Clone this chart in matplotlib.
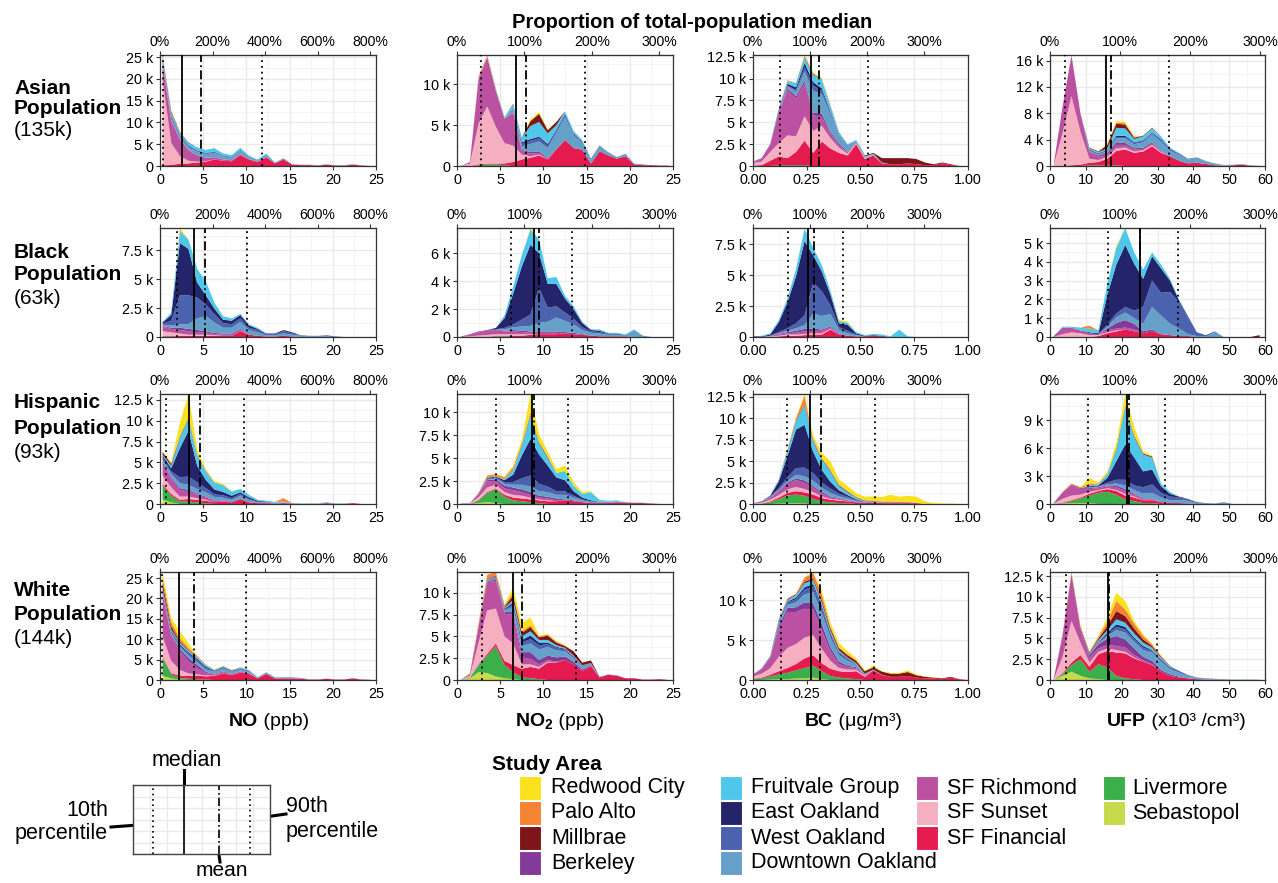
import numpy as np
import matplotlib.pyplot as plt
from matplotlib.patches import Rectangle
from matplotlib.ticker import MultipleLocator, FuncFormatter, FormatStrFormatter

plt.rcParams['font.family'] = ['Liberation Sans', 'DejaVu Sans']
plt.rcParams['mathtext.fontset'] = 'custom'
plt.rcParams['mathtext.rm'] = 'Liberation Sans'
plt.rcParams['mathtext.bf'] = 'Liberation Sans:bold'

# study areas, legend order
area_codes = ['RC', 'PA', 'MB', 'BK', 'FV', 'EO', 'WO', 'DO', 'SR', 'SS', 'SF', 'LV', 'SB']
area_names = ['Redwood City', 'Palo Alto', 'Millbrae', 'Berkeley', 'Fruitvale Group',
              'East Oakland', 'West Oakland', 'Downtown Oakland', 'SF Richmond',
              'SF Sunset', 'SF Financial', 'Livermore', 'Sebastopol']
area_colors = {'RC': '#F9E11B', 'PA': '#F48431', 'MB': '#7E1518', 'BK': '#833A98',
               'FV': '#4FC7EB', 'EO': '#24246B', 'WO': '#4B63AE', 'DO': '#65A0C9',
               'SR': '#BB51A0', 'SS': '#F6AFC0', 'SF': '#E51A4E', 'LV': '#3BAF4A',
               'SB': '#C6DA4B'}
# bottom -> top
stack_order = ['SB', 'LV', 'SF', 'SS', 'SR', 'BK', 'DO', 'WO', 'EO', 'FV', 'MB', 'PA', 'RC']

# bin centres for each pollutant
x_no = 0.3 + np.arange(25)
x_no2 = 0.5 + np.arange(25)
x_bc = 0.04 * np.arange(26)
x_ufp = 1 + 2.5 * np.arange(24)

# population counts per bin (thousands)
asian_no = dict(
    SS=[19.5, 5.0, 1.8, 0.6, 0.2, 0.1],
    SR=[3.5, 5.0, 3.8, 2.4, 1.4, 0.8, 0.5, 0.3, 0.2, 0.2, 0.1, 0.1],
    SF=[0.2, 0.3, 0.5, 0.6, 0.8, 1.0, 1.5, 1.2, 1.1, 2.5, 1.5, 0.9, 2.0, 0.6, 1.5, 0.3, 0.2, 0.2, 0.1, 0.3, 0.1, 0.1, 0.3, 0.1],
    LV=[0.1],
    DO=[0.3, 0.5, 0.5, 0.6, 0.8, 0.8, 1.0, 0.7, 0.6, 0.8, 0.5, 0.3, 0.6, 0.2, 0.3, 0.1, 0.1, 0.1, 0.1, 0.1, 0.1, 0.1, 0.1, 0.1],
    WO=[0.3, 0.3, 0.3, 0.2, 0.2, 0.2, 0.2, 0.1, 0.1, 0.1, 0.1, 0.1, 0.1],
    EO=[0.3, 0.3, 0.2, 0.2, 0.1, 0.1, 0.1, 0.1, 0.1, 0.1],
    FV=[0.4, 0.6, 0.5, 0.6, 0.7, 0.7, 0.8, 0.5, 0.4, 0.5, 0.2, 0.1, 0.2],
    BK=[0.2, 0.2, 0.1, 0.1, 0.1],
    MB=[0.3, 0.3, 0.1, 0.1],
    PA=[0.2, 0.2, 0.1],
    RC=[0.2, 0.2, 0.1],
)
asian_no2 = dict(
    SF=[0, 0, 0.1, 0.1, 0.1, 0.2, 0.5, 0.8, 1.0, 1.3, 0.8, 2.0, 3.2, 2.2, 2.0, 0.3, 1.8, 1.3, 0.9, 1.2, 0.2, 0.1, 0.1, 0.05, 0.05],
    LV=[0, 0, 0.1, 0.2, 0.2, 0.1],
    SS=[0, 0.3, 5.0, 7.0, 4.5, 2.5, 2.0, 0.6, 0.2, 0.1],
    SR=[0, 0.2, 5.5, 6.0, 4.4, 3.0, 4.0, 0.5, 0.3, 0.2, 0.1],
    DO=[0, 0, 0.1, 0.1, 0.1, 0.1, 0.2, 0.4, 1.0, 1.2, 1.2, 2.0, 2.8, 1.5, 0.8, 0.5, 0.6, 0.4, 0.2, 0.3, 0.1, 0.1],
    WO=[0, 0, 0, 0, 0, 0, 0.1, 0.3, 0.4, 0.4, 0.3, 0.3, 0.3, 0.2, 0.2, 0.1, 0.1],
    EO=[0, 0, 0, 0, 0, 0, 0.1, 0.2, 0.2, 0.2, 0.2, 0.1, 0.1, 0.1],
    FV=[0, 0, 0, 0, 0.1, 0.1, 0.5, 0.6, 1.6, 1.8, 1.3, 0.5, 0.3, 0.3, 0.2],
    BK=[0, 0, 0, 0, 0, 0, 0.1, 0.1, 0.2, 0.2, 0.1, 0.1],
    MB=[0, 0, 0, 0, 0, 0, 0.1, 0, 0.6, 1.0, 0.4, 0.4],
    PA=[0, 0, 0.2, 0.2, 0.1],
    RC=[0, 0, 0, 0, 0, 0, 0, 0, 0.2, 0.2, 0.1],
)
asian_bc = dict(
    SF=[0.05, 0.1, 0.6, 1.0, 0.8, 1.5, 2.8, 1.5, 2.8, 2.0, 1.5, 1.2, 2.5, 0.8, 1.2, 0.3, 0.2, 0.2, 0.3, 0.2, 0.1, 0.1, 0.3, 0.1],
    LV=[0, 0, 0, 0.1, 0.1, 0.1, 0.1],
    SS=[0.3, 0.4, 1.0, 1.5, 2.6, 1.8, 2.8, 2.5, 1.8, 1.2, 0.6, 0.2, 0.1, 0.1],
    SR=[0.1, 0.3, 0.8, 3.5, 5.2, 4.3, 3.8, 1.8, 1.0, 0.5, 0.3, 0.1, 0.1],
    DO=[0, 0, 0, 0.1, 0.2, 0.5, 1.0, 2.5, 2.2, 2.0, 1.0, 0.7, 0.2, 0.1, 0.1, 0.1],
    WO=[0, 0, 0, 0.1, 0.1, 0.2, 0.5, 0.6, 0.4, 0.3, 0.1, 0.1],
    EO=[0, 0, 0, 0.1, 0.2, 0.3, 0.5, 0.4, 0.3, 0.1],
    FV=[0, 0, 0, 0.1, 0.3, 0.5, 0.6, 0.8, 1.0, 0.6, 0.2, 0.1, 0.1, 0.1, 0.1],
    BK=[0.05, 0.1, 0.1, 0.1, 0.2, 0.3, 0.3, 0.3, 0.4, 0.2, 0.2, 0.1],
    MB=[0, 0, 0, 0, 0, 0, 0.1, 0.1, 0, 0, 0, 0, 0, 0.1, 0.1, 0.5, 0.7, 0.7, 0.6, 0.6, 0.3, 0.1, 0.1, 0.1],
    PA=[0, 0, 0, 0, 0.1, 0, 0.1, 0.1, 0.1, 0.1],
    RC=[0, 0, 0, 0, 0, 0, 0.1, 0.1, 0.1],
)
asian_ufp = dict(
    SF=[0, 0, 0.1, 0.2, 0.4, 0.5, 1.0, 2.2, 2.5, 2.0, 2.2, 3.0, 2.0, 1.5, 0.8, 0.4, 0.5, 0.3, 0.1, 0.05, 0.1, 0.2, 0.05],
    LV=[0, 0, 0, 0, 0.1, 0.1, 0.1, 0.1],
    SS=[0.05, 5.0, 10.5, 5.0, 0.6, 0.3, 0.3, 0.4, 0.3, 0.2, 0.2, 0.2, 0.1],
    SR=[0.05, 4.0, 6.1, 2.7, 1.0, 0.5, 0.3, 0.5, 0.4, 0.3, 0.2, 0.2, 0.1],
    DO=[0, 0, 0, 0, 0.1, 0.1, 0.3, 0.6, 0.7, 0.6, 0.8, 1.2, 1.4, 0.8, 0.9, 0.6, 0.7, 0.4, 0.3, 0.1, 0.1, 0.1, 0.05],
    WO=[0, 0, 0, 0, 0.1, 0.1, 0.1, 0.2, 0.2, 0.2, 0.2, 0.2, 0.3, 0.2, 0.2, 0.1, 0.1, 0.05],
    EO=[0, 0, 0, 0, 0.1, 0.1, 0.1, 0.2, 0.2, 0.1, 0.1, 0.1, 0.1, 0.1],
    FV=[0, 0, 0, 0, 0.2, 0.2, 0.2, 1.2, 1.1, 0.5, 0.6, 0.6, 0.4, 0.2, 0.1],
    BK=[0, 0, 0.1, 0.1, 0.1, 0.2, 0.3, 0.4, 0.3, 0.2, 0.2, 0.2, 0.1],
    MB=[0, 0, 0, 0, 0.1, 0.1, 0.5, 0.6, 0.6, 0.2, 0.1, 0.1],
    PA=[0, 0, 0.05, 0, 0, 0, 0.1, 0.2, 0.2, 0.1],
    RC=[0, 0, 0, 0, 0, 0, 0.1, 0.2, 0.2, 0.1],
)

black_no = dict(
    SF=[0.05, 0.05, 0.1, 0.1, 0.1, 0.1, 0.1, 0.1, 0.1, 0.5, 0.2, 0.1, 0.05, 0.05, 0.1, 0.05],
    SS=[0.4, 0.3, 0.2, 0.1, 0.1, 0.1, 0.05],
    SR=[0.4, 0.3, 0.3, 0.3, 0.2, 0.2, 0.1, 0.1, 0.1, 0.1],
    LV=[0.05, 0.05],
    DO=[0.1, 0.2, 0.3, 0.4, 1.0, 1.3, 0.9, 0.5, 0.5, 0.6, 0.4, 0.3, 0.1, 0.1, 0.2, 0.15, 0.1, 0.05, 0.05, 0.05],
    WO=[0.1, 0.4, 2.5, 2.5, 1.8, 1.0, 0.7, 0.4, 0.3, 0.3, 0.2, 0.2, 0.1, 0.1, 0.2, 0.1, 0.05, 0.05, 0.05, 0.1, 0.05],
    EO=[0.1, 0.5, 4.5, 4.0, 1.3, 0.8, 0.5, 0.3, 0.3, 0.3, 0.2, 0.1, 0.05, 0.05, 0.1, 0.1],
    FV=[0.05, 0.2, 1.0, 0.8, 1.2, 1.2, 0.5, 0.3, 0.2, 0.1, 0.1, 0.1],
    BK=[0.05, 0.1, 0.2, 0.2, 0.2, 0.1, 0.1, 0.1, 0.1, 0.1],
    PA=[0, 0, 0.1],
    RC=[0, 0, 0.2],
)
black_no2 = dict(
    SF=[0, 0, 0, 0, 0.05, 0.05, 0.1, 0.1, 0.15, 0.2, 0.2, 0.2, 0.25, 0.2, 0.15, 0.1, 0.05, 0.05, 0.05, 0.05],
    LV=[0, 0, 0, 0, 0.05, 0.05],
    SS=[0, 0.05, 0.1, 0.15, 0.1, 0.1, 0.1, 0.1, 0.05],
    SR=[0.05, 0.1, 0.25, 0.3, 0.3, 0.2, 0.2, 0.15, 0.1, 0.1, 0.1, 0.1],
    DO=[0, 0, 0, 0, 0, 0.1, 0.2, 0.3, 0.4, 0.6, 0.7, 1.0, 0.8, 0.6, 0.3, 0.2, 0.2, 0.1, 0.1, 0.1, 0.5, 0.1],
    WO=[0, 0, 0, 0, 0, 0.1, 0.2, 0.5, 0.8, 2.5, 1.0, 0.8, 0.6, 0.4, 0.2, 0.1, 0.1, 0.05, 0.05],
    EO=[0, 0, 0, 0, 0.1, 0.7, 2.2, 3.8, 5.0, 2.5, 1.7, 1.6, 1.0, 0.7, 0.3, 0.1, 0.1, 0.05, 0.05],
    FV=[0, 0, 0, 0, 0, 0.2, 0.5, 0.8, 1.1, 1.0, 0.4, 0.5, 0.2, 0.2, 0.1, 0.05, 0.1, 0.05, 0.05, 0.05, 0.05],
    BK=[0, 0.05, 0.05, 0.05, 0.05, 0.05, 0.1, 0.1, 0.1, 0.1, 0.1, 0.1, 0.1, 0.1, 0.05],
    RC=[0, 0, 0, 0, 0, 0, 0, 0, 0.1],
)
black_bc = dict(
    SF=[0, 0, 0, 0.05, 0.1, 0.1, 0.15, 0.2, 0.2, 0.6, 0.2, 0.1, 0.05, 0.05, 0.1, 0.05],
    SS=[0, 0, 0.05, 0.05, 0.1, 0.1, 0.1, 0.1, 0.1, 0.05],
    SR=[0, 0, 0.05, 0.1, 0.1, 0.15, 0.2, 0.2, 0.2, 0.1, 0.05],
    DO=[0, 0, 0, 0.05, 0.1, 0.2, 0.3, 1.2, 1.1, 1.0, 0.3, 0.2, 0.1],
    WO=[0, 0, 0, 0.1, 0.2, 0.4, 0.8, 2.5, 2.0, 0.7, 0.2, 0.2, 0.05],
    EO=[0.05, 0.05, 0.1, 0.8, 2.1, 3.8, 6.0, 2.2, 1.6, 0.9, 0.3, 0.5, 0.1, 0.05, 0.05, 0.05],
    FV=[0, 0.05, 0.1, 0.15, 0.3, 0.6, 1.0, 0.6, 0.5, 0.3, 0.2, 0.15, 0.1, 0.05, 0.1, 0.1, 0.05, 0.6, 0.05],
    BK=[0, 0, 0, 0.05, 0.1, 0.15, 0.2, 0.2, 0.1, 0.1, 0.05],
    RC=[0, 0, 0, 0, 0, 0, 0.05, 0, 0, 0, 0.1, 0.1],
)
black_ufp = dict(
    SF=[0, 0, 0, 0, 0, 0.05, 0.2, 0.3, 0.4, 0.3, 0.2, 0.3, 0.15, 0.1, 0.05, 0.05],
    SS=[0, 0.15, 0.25, 0.2, 0.1, 0.05, 0.05, 0.05],
    SR=[0.05, 0.35, 0.25, 0.15, 0.1, 0.05, 0.1, 0.1, 0.1, 0.1],
    DO=[0, 0, 0, 0, 0, 0, 0.1, 0.3, 0.4, 0.3, 0.4, 1.2, 1.0, 0.6, 0.4, 0.1, 0.05, 0.02, 0.25],
    WO=[0, 0, 0, 0, 0, 0, 0.1, 0.2, 0.3, 0.4, 0.9, 1.4, 1.2, 1.7, 1.4, 0.9, 0.2, 0.08, 0.05],
    EO=[0, 0, 0, 0, 0.05, 0.05, 1.6, 2.6, 3.3, 2.5, 1.5, 1.3, 1.3, 0.6, 0.1, 0.05],
    FV=[0, 0.05, 0.05, 0.15, 0.2, 0.15, 0.6, 0.9, 0.9, 0.6, 0.5, 0.2, 0.2, 0.1, 0.05],
    BK=[0, 0, 0, 0, 0, 0, 0.1, 0.3, 0.4, 0.3, 0.1, 0.1],
    PA=[0, 0, 0, 0, 0.15],
    RC=[0, 0, 0, 0, 0, 0, 0, 0.1],
    MB=[0, 0, 0, 0, 0, 0, 0, 0, 0, 0, 0, 0, 0, 0, 0, 0, 0, 0, 0, 0, 0, 0, 0, 0.1],
)

hisp_no = dict(
    SB=[0.5, 0.2],
    LV=[1.7, 0.8, 0.3, 0.3, 0.2, 0.1],
    SF=[0.2, 0.2, 0.2, 0.3, 0.3, 0.3, 0.2, 0.3, 0.2, 0.6, 0.2, 0.1, 0.1, 0.05, 0.1, 0.05, 0, 0, 0, 0.1, 0, 0, 0.1],
    SS=[1.0, 0.8, 0.4, 0.3, 0.2, 0.1],
    SR=[1.3, 1.0, 0.8, 0.6, 0.4, 0.3, 0.2, 0.1],
    DO=[0.3, 0.4, 0.6, 0.6, 0.6, 0.5, 0.4, 0.3, 0.3, 0.4, 0.3, 0.1, 0.1, 0.1, 0.1, 0.05, 0.05, 0.05, 0.05, 0.1, 0.05, 0.05],
    WO=[0.3, 0.3, 0.7, 1.0, 0.8, 0.5, 0.3, 0.3, 0.2, 0.2, 0.1, 0.1, 0.05],
    EO=[0.2, 0.4, 3.5, 5.5, 2.0, 1.0, 0.6, 0.4, 0.3, 0.2, 0.2, 0.1, 0.05],
    FV=[0.1, 0.3, 1.2, 1.4, 1.2, 1.0, 0.8, 0.8, 0.5, 0.4, 0.3, 0.1, 0.1, 0.1, 0.1],
    BK=[0.3, 0.2, 0.2, 0.2, 0.1, 0.1, 0.05, 0.05],
    MB=[0.3, 0.2, 0.1, 0.1, 0.1, 0.05],
    PA=[0.1, 0.1, 0.2, 0.1, 0.1, 0.05, 0.05, 0.05, 0, 0, 0, 0, 0, 0, 0.4],
    RC=[0, 0.1, 1.5, 2.8, 0.6, 0.2, 0.15, 0.1, 0.05],
)
hisp_no2 = dict(
    SB=[0, 0, 0.1, 0.2, 0.1],
    LV=[0, 0, 0.3, 1.0, 1.5, 0.8, 0.4, 0.3, 0.2, 0.1],
    SF=[0, 0, 0.05, 0.1, 0.1, 0.2, 0.3, 0.3, 0.3, 0.3, 0.3, 0.3, 0.4, 0.3, 0.2, 0.1, 0.1, 0.1, 0.2, 0.1, 0.1, 0.1, 0.05],
    SS=[0, 0.05, 0.3, 0.5, 0.4, 0.3, 0.3, 0.3, 0.2, 0.1, 0.1],
    SR=[0.05, 0.05, 0.3, 0.7, 0.4, 0.4, 0.5, 0.4, 0.3, 0.2, 0.2, 0.1],
    DO=[0, 0, 0, 0.05, 0.1, 0.2, 0.3, 0.5, 0.6, 0.5, 0.5, 0.4, 0.5, 0.3, 0.2, 0.1, 0.1, 0.1, 0.1, 0.1, 0.05, 0.05],
    WO=[0, 0, 0, 0.1, 0.1, 0.2, 0.3, 0.7, 1.2, 0.8, 0.6, 0.4, 0.4, 0.2, 0.1, 0.1, 0.05, 0.05],
    EO=[0, 0, 0, 0.1, 0.1, 0.2, 0.8, 2.5, 4.0, 3.2, 2.3, 1.5, 1.2, 0.5, 0.2, 0.1],
    FV=[0, 0, 0, 0.05, 0.05, 0.1, 0.5, 1.0, 2.5, 1.2, 0.8, 0.5, 1.0, 0.6, 0.4, 0.9, 0.2, 0.1, 0.1],
    BK=[0, 0, 0.1, 0.1, 0.2, 0.3, 0.3, 0.3, 0.3, 0.2, 0.2, 0.2, 0.1, 0.1],
    MB=[0, 0, 0, 0, 0, 0, 0, 0.1, 0.1, 0.1, 0.1],
    PA=[0, 0, 0.05, 0.2, 0.2, 0.2, 0.3, 0.2, 0.3, 0.1, 0.1],
    RC=[0, 0, 0, 0.05, 0.05, 0.1, 0.2, 0.4, 2.0, 0.8, 0.5, 0.4, 0.6, 0.4, 0.2, 0.1],
)
hisp_bc = dict(
    SB=[0, 0, 0, 0.05, 0.1, 0.1, 0.05],
    LV=[0, 0.05, 0.2, 0.5, 0.9, 1.0, 0.9, 0.6, 0.3, 0.2, 0.1, 0.1],
    SF=[0, 0, 0.1, 0.2, 0.3, 0.4, 0.4, 0.5, 0.4, 0.3, 0.3, 0.2, 0.2, 0.1, 0.2, 0.1, 0.1, 0.1, 0.1, 0.1],
    SS=[0.05, 0.1, 0.2, 0.3, 0.4, 0.5, 0.4, 0.3, 0.2, 0.1, 0.1],
    SR=[0.05, 0.1, 0.2, 0.4, 0.6, 0.8, 0.7, 0.5, 0.3, 0.2, 0.1, 0.1],
    DO=[0, 0, 0.05, 0.1, 0.2, 0.4, 0.5, 0.6, 0.5, 0.4, 0.2, 0.2, 0.1, 0.05, 0.05, 0.05],
    WO=[0, 0, 0.05, 0.2, 0.4, 0.8, 1.0, 0.9, 0.6, 0.5, 0.3, 0.2, 0.1, 0.05],
    EO=[0, 0.05, 0.1, 0.8, 2.5, 4.5, 5.0, 2.5, 1.5, 0.8, 0.4, 0.2, 0.1, 0.05],
    FV=[0, 0, 0.05, 0.2, 0.6, 1.0, 2.3, 1.2, 1.2, 1.2, 0.5, 0.3, 0.2, 0.1, 0.05, 0.05, 0.05, 0.05, 0.05],
    BK=[0, 0, 0.05, 0.1, 0.2, 0.2, 0.3, 0.2, 0.2, 0.1, 0.1, 0.05, 0.05],
    MB=[0, 0, 0, 0, 0.05, 0.1, 0.1, 0.1, 0.1, 0.1, 0.1, 0.1, 0.05, 0.05, 0.05, 0.05, 0.05, 0.05, 0.05],
    PA=[0, 0, 0, 0.05, 0.1, 0.2, 1.0, 0.2, 0.1, 0.1, 0.05, 0.05, 0.05, 0.05, 0.05, 0.05, 0.1, 0.05, 0.05, 0.05],
    RC=[0, 0, 0, 0, 0.1, 0.1, 0.2, 0.4, 0.6, 1.0, 0.6, 0.6, 0.4, 0.4, 0.5, 0.5, 0.8, 0.6, 0.7, 0.7, 0.3, 0.1, 0.05, 0.05],
)
hisp_ufp = dict(
    SB=[0, 0.05, 0.1, 0.1, 0.1],
    LV=[0, 0.05, 0.2, 0.5, 0.8, 1.2, 1.3, 1.0, 0.5, 0.3, 0.1, 0.1],
    SF=[0, 0.05, 0.1, 0.1, 0.2, 0.2, 0.3, 0.4, 0.4, 0.4, 0.3, 0.3, 0.2, 0.1, 0.1, 0.05],
    SS=[0.05, 0.4, 0.5, 0.3, 0.2, 0.1, 0.1, 0.1, 0.2, 0.1],
    SR=[0.05, 0.7, 1.1, 0.6, 0.3, 0.2, 0.2, 0.3, 0.3, 0.2, 0.1, 0.1],
    DO=[0, 0, 0, 0, 0.05, 0.05, 0.1, 0.2, 0.4, 0.4, 0.5, 0.6, 0.5, 0.3, 0.3, 0.3, 0.1, 0.05, 0.05, 0.2],
    WO=[0, 0, 0, 0, 0.05, 0.05, 0.2, 0.4, 0.6, 0.5, 0.7, 0.9, 0.5, 0.4, 0.3, 0.2, 0.1, 0.05],
    EO=[0, 0, 0, 0, 0.1, 0.1, 0.5, 2.0, 3.8, 3.0, 1.7, 1.6, 0.7, 0.3, 0.1],
    FV=[0, 0, 0, 0, 0.1, 0.1, 0.4, 1.2, 4.0, 2.2, 1.8, 1.3, 0.3, 0.2],
    BK=[0, 0, 0.1, 0.1, 0.1, 0.1, 0.1, 0.2, 0.2, 0.1, 0.1, 0.1],
    MB=[0, 0, 0, 0, 0, 0, 0, 0.1, 0.1, 0.1, 0.1, 0.1],
    PA=[0, 0.05, 0.1, 0.1, 0.2, 0.1, 0.1, 0.1, 0.1, 0.1, 0.05],
    RC=[0, 0, 0, 0, 0.6, 0.1, 0.2, 0.5, 1.2, 0.9, 0.2, 0.1],
)

white_no = dict(
    SB=[1.0, 0.4, 0.1],
    LV=[4.5, 1.0, 0.4, 0.3, 0.2, 0.1],
    SF=[0.2, 0.3, 0.5, 0.7, 0.9, 0.8, 1.0, 1.6, 1.2, 1.8, 1.5, 0.4, 1.5, 0.4, 0.4, 0.4, 0.3, 0.1, 0.1, 0.3, 0.1, 0.1, 0.4, 0.1, 0.05],
    SS=[5.0, 3.0, 1.5, 0.6, 0.3, 0.2, 0.1],
    SR=[10.5, 6.0, 4.5, 3.0, 1.5, 0.6, 0.3, 0.3, 0.2, 0.2, 0.1],
    DO=[0.3, 0.4, 0.5, 0.6, 0.7, 0.6, 0.5, 0.7, 0.5, 0.5, 0.4, 0.2, 0.3, 0.2, 0.2, 0.2, 0.2, 0.1, 0.05, 0.05, 0.05, 0.05, 0.05, 0.05, 0.05],
    WO=[0.3, 0.3, 0.4, 0.5, 0.5, 0.4, 0.2, 0.3, 0.2, 0.2, 0.1, 0.05, 0.05, 0.05, 0.05, 0.05],
    EO=[0.3, 0.3, 0.3, 0.3, 0.3, 0.3, 0.1, 0.1, 0.1, 0.1, 0.1],
    FV=[0.2, 0.3, 0.4, 0.4, 0.4, 0.4, 0.2, 0.2, 0.1, 0.2, 0.1, 0.05, 0.05, 0.05, 0.1, 0.1],
    BK=[0.3, 0.4, 0.6, 0.8, 0.8, 0.3, 0.1, 0.2, 0.1, 0.1, 0.1],
    MB=[1.2, 0.8, 0.3, 0.2, 0.1],
    PA=[1.5, 1.0, 0.8, 0.5, 0.2, 0.1, 0.05, 0.05, 0.05, 0.05],
    RC=[1.2, 1.0, 1.7, 1.1, 0.1, 0.05, 0.05, 0.05, 0.05],
)
white_no2 = dict(
    SB=[0, 0.2, 0.9, 0.8, 0.4, 0.2, 0.1],
    LV=[0, 0.1, 0.8, 2.0, 3.5, 1.5, 0.8, 0.3, 0.2, 0.1],
    SF=[0, 0, 0.1, 0.2, 0.3, 0.5, 0.8, 1.0, 1.3, 1.2, 2.0, 2.0, 2.3, 1.8, 1.0, 1.6, 0.3, 0.6, 0.5, 0.2, 0.2, 0.05, 0.05, 0.1],
    SS=[0, 0.2, 2.5, 5.0, 4.0, 2.8, 2.5, 0.5, 0.3, 0.2, 0.1],
    SR=[0.05, 0.2, 1.8, 3.2, 3.2, 2.6, 3.3, 0.8, 0.6, 0.3, 0.2, 0.1],
    DO=[0, 0, 0, 0.1, 0.1, 0.2, 0.6, 0.7, 1.0, 1.2, 1.0, 0.8, 0.6, 0.4, 0.3, 0.2, 0.1, 0.05, 0.05],
    WO=[0, 0, 0, 0.05, 0.1, 0.1, 0.3, 0.4, 0.5, 0.5, 0.3, 0.3, 0.2, 0.1, 0.1, 0.05],
    EO=[0, 0, 0, 0.05, 0.05, 0.1, 0.2, 0.3, 0.4, 0.3, 0.2, 0.1, 0.1, 0.1, 0.05],
    FV=[0, 0, 0, 0.05, 0.05, 0.1, 0.3, 0.4, 0.5, 0.3, 0.3, 0.2, 0.1, 0.1, 0.05],
    BK=[0, 0, 0.1, 0.1, 0.2, 0.2, 0.3, 0.6, 0.8, 0.5, 0.5, 0.5, 0.4, 0.3, 0.2, 0.1],
    MB=[0, 0, 0, 0.05, 0.1, 0.1, 0.5, 0.4, 0.5, 0.3, 0.5, 0.3, 0.2, 0.5, 0.3, 0.3],
    PA=[0, 0.1, 0.3, 0.5, 0.4, 0.2, 0.3, 0.2, 0.2, 0.1, 0.1, 0.1, 0.05],
    RC=[0, 0, 0, 0, 0, 0.1, 0.6, 0.9, 0.9, 0.1, 0.1, 0.1, 0.05],
)
white_bc = dict(
    SB=[0, 0, 0.05, 0.1, 0.1, 0.2, 0.2, 0.3, 0.1],
    LV=[0.1, 0.2, 0.4, 0.6, 0.8, 1.0, 1.3, 1.5, 1.0, 0.5, 0.3, 0.2, 0.1],
    SF=[0.05, 0.1, 0.2, 0.4, 0.6, 0.8, 1.2, 1.3, 1.0, 0.9, 0.8, 0.8, 1.0, 0.4, 1.2, 0.6, 0.4, 0.4, 0.5, 0.3, 0.2, 0.2, 0.1, 0.3, 0.1],
    SS=[0.3, 0.5, 0.8, 1.8, 2.5, 2.5, 2.6, 2.5, 1.8, 1.0, 0.4, 0.3, 0.2, 0.1],
    SR=[0.2, 0.5, 1.2, 3.5, 4.5, 4.0, 3.6, 3.2, 2.3, 1.2, 0.5, 0.3, 0.2, 0.1],
    DO=[0, 0.05, 0.1, 0.3, 0.4, 0.6, 1.0, 1.4, 1.4, 1.2, 0.8, 0.6, 0.3, 0.1, 0.1, 0.05],
    WO=[0, 0, 0.05, 0.2, 0.3, 0.4, 0.6, 0.7, 0.6, 0.4, 0.3, 0.2, 0.1, 0.05],
    EO=[0, 0, 0, 0.1, 0.1, 0.2, 0.3, 0.3, 0.3, 0.2, 0.1, 0.1],
    FV=[0, 0, 0, 0.1, 0.2, 0.3, 0.5, 0.5, 0.4, 0.3, 0.2, 0.1, 0.1],
    BK=[0.05, 0.1, 0.2, 0.4, 0.5, 0.6, 0.8, 0.8, 0.8, 0.5, 0.3, 0.2, 0.1, 0.05],
    MB=[0, 0, 0, 0.05, 0.1, 0.1, 0.2, 0.2, 0.3, 0.3, 0.3, 0.3, 0.3, 0.3, 0.3, 0.4, 0.4, 0.4, 0.5, 0.3, 0.2, 0.1, 0.1, 0.1],
    PA=[0, 0, 0, 0.05, 0.1, 0.1, 0.5, 0.7, 0.8, 0.2, 0.1, 0.1, 0.1],
    RC=[0, 0, 0, 0, 0, 0, 0, 0.1, 0.4, 0.5, 0.5, 0.4, 0.2, 0.1, 0.2, 0.05, 0.1, 0.1, 0.2, 0.1, 0.05, 0.05],
)
white_ufp = dict(
    SB=[0, 0.5, 1.0, 0.5, 0.2, 0.1],
    LV=[0, 0.2, 0.8, 2.0, 0.8, 1.8, 1.5, 0.5, 0.2, 0.1],
    SF=[0, 0.1, 0.3, 0.5, 0.6, 1.2, 2.0, 2.8, 3.0, 2.5, 2.2, 1.8, 1.0, 0.5, 0.3, 0.2, 0.1, 0.05, 0.05, 0.05],
    SS=[0.05, 2.0, 5.0, 1.5, 0.5, 0.3, 0.3, 0.3, 0.2, 0.1],
    SR=[0.05, 2.5, 5.6, 1.5, 0.6, 0.4, 0.4, 0.5, 0.5, 0.3, 0.2, 0.1],
    DO=[0, 0, 0, 0, 0.05, 0.1, 0.3, 0.7, 0.8, 0.8, 0.8, 1.0, 1.0, 0.6, 0.5, 0.3, 0.15, 0.1, 0.1, 0.05, 0.05, 0.05, 0.05, 0.05],
    WO=[0, 0, 0, 0, 0.05, 0.1, 0.2, 0.4, 0.4, 0.3, 0.3, 0.2, 0.2, 0.2, 0.2, 0.1, 0.05, 0.05],
    EO=[0, 0, 0, 0, 0.05, 0.1, 0.2, 0.3, 0.3, 0.2, 0.2, 0.1, 0.1, 0.05],
    FV=[0, 0, 0, 0, 0.05, 0.2, 0.3, 0.6, 0.5, 0.5, 0.4, 0.3, 0.2, 0.1],
    BK=[0, 0.1, 0.1, 0.3, 0.3, 0.5, 0.8, 1.2, 1.0, 0.8, 0.4, 0.4, 0.2, 0.2, 0.1],
    MB=[0, 0, 0, 0, 0.1, 0.2, 0.5, 1.0, 0.8, 0.6, 0.4, 0.2, 0.1, 0.05],
    PA=[0, 0.1, 0.2, 0.2, 0.1, 0.2, 0.5, 1.2, 0.8, 0.6, 0.4, 0.2, 0.1],
    RC=[0, 0, 0, 0, 0.05, 0.1, 0.5, 1.0, 1.0, 0.3, 0.2, 0.1, 0.05],
)

groups = ['Asian', 'Black', 'Hispanic', 'White']
group_pop = ['(135k)', '(63k)', '(93k)', '(144k)']
panels = [[asian_no, asian_no2, asian_bc, asian_ufp],
          [black_no, black_no2, black_bc, black_ufp],
          [hisp_no, hisp_no2, hisp_bc, hisp_ufp],
          [white_no, white_no2, white_bc, white_ufp]]

# 10th percentile, median, mean, 90th percentile for each group / pollutant
stats = [[(0.3, 2.6, 4.75, 11.85), (2.73, 6.8, 8.0, 14.8), (0.127, 0.269, 0.305, 0.536), (4.2, 15.5, 17.1, 33.3)],
         [(1.93, 3.94, 5.2, 10.06), (6.26, 8.9, 9.5, 13.3), (0.162, 0.255, 0.283, 0.42), (16.2, 25.0, 25.2, 35.8)],
         [(0.69, 3.3, 4.6, 9.7), (4.47, 8.7, 8.9, 12.9), (0.156, 0.267, 0.316, 0.566), (10.7, 21.6, 22.0, 32.0)],
         [(0.27, 2.16, 3.94, 9.97), (2.86, 6.5, 7.47, 13.8), (0.129, 0.269, 0.31, 0.563), (4.4, 16.1, 16.5, 29.8)]]

# total-population medians (for top axis)
total_median = [3.04, 7.8, 0.265, 19.55]
x_grids = [x_no, x_no2, x_bc, x_ufp]
x_max = [25, 25, 1.0, 60]
x_step = [5, 5, 0.25, 10]
pct_ticks = [[0, 200, 400, 600, 800], [0, 100, 200, 300], [0, 100, 200, 300], [0, 100, 200, 300]]
y_step = [[5, 5, 2.5, 4], [2.5, 2, 2.5, 1], [2.5, 2.5, 2.5, 3], [5, 2.5, 5, 2.5]]

W, H = 1278, 883
col_px = [(160, 376), (457, 673), (753, 968), (1050, 1265)]
row_px = [(55, 166), (228, 337), (394, 504), (572, 680)]

line_styles = [(0, (1, 2.2)), '-', (0, (5, 1.8, 1, 1.8)), (0, (1, 2.2))]

fig = plt.figure(figsize=(W / 100, H / 100), dpi=100)


def kfmt(v, pos):
    if abs(v) < 1e-9:
        return '0'
    return f'{v:g} k'


for r in range(4):
    for c in range(4):
        x0, x1 = col_px[c]
        y0, y1 = row_px[r]
        ax = fig.add_axes([x0 / W, 1 - y1 / H, (x1 - x0) / W, (y1 - y0) / H])
        x = x_grids[c]
        d = panels[r][c]
        ys = [np.array(d.get(k, []) + [0] * (len(x) - len(d.get(k, [])))) for k in stack_order]
        ax.stackplot(x, ys, colors=[area_colors[k] for k in stack_order], linewidth=0)
        top = np.sum(ys, axis=0).max()
        ax.set_xlim(0, x_max[c])
        ax.set_ylim(0, top)
        for v, ls in zip(stats[r][c], line_styles):
            ax.axvline(v, color='black', ls=ls, lw=1.3, zorder=4)
        ax.xaxis.set_major_locator(MultipleLocator(x_step[c]))
        ax.xaxis.set_minor_locator(MultipleLocator(x_step[c] / 2))
        ax.yaxis.set_major_locator(MultipleLocator(y_step[r][c]))
        ax.yaxis.set_minor_locator(MultipleLocator(y_step[r][c] / 2))
        ax.yaxis.set_major_formatter(FuncFormatter(kfmt))
        if c == 2:
            ax.xaxis.set_major_formatter(FormatStrFormatter('%.2f'))
        ax.grid(which='major', color='#EAEAEA', lw=1.0)
        ax.grid(which='minor', color='#F2F2F2', lw=0.6)
        ax.set_axisbelow(True)
        ax.tick_params(which='major', labelsize=10.4, length=3, width=0.8,
                       color='#333333', pad=2)
        ax.tick_params(which='minor', length=0)
        for s in ax.spines.values():
            s.set_color('#333333')
            s.set_linewidth(0.9)
        m = total_median[c]
        sec = ax.secondary_xaxis('top', functions=(lambda v, m=m: v / m * 100,
                                                   lambda p, m=m: p * m / 100))
        sec.set_xticks(pct_ticks[c])
        sec.set_xticklabels([f'{p}%' for p in pct_ticks[c]])
        sec.tick_params(labelsize=10.2, length=3, width=0.8, color='#333333', pad=1)
        sec.spines['top'].set_color('#333333')

# overlay for text, legend and key
ov = fig.add_axes([0, 0, 1, 1])
ov.set_xlim(0, W)
ov.set_ylim(H, 0)
ov.axis('off')
ov.patch.set_alpha(0)

ov.text(692, 22, 'Proportion of total-population median', ha='center', va='center',
        fontsize=14.5, fontweight='bold')

row_text_y = [(88, 108, 131), (252, 275, 298), (403, 428, 452), (590, 614, 638)]
for g, pop, (ya, yb, yc) in zip(groups, group_pop, row_text_y):
    ov.text(14, ya, g, ha='left', va='center', fontsize=15, fontweight='bold')
    ov.text(14, yb, 'Population', ha='left', va='center', fontsize=15, fontweight='bold')
    ov.text(14, yc, pop, ha='left', va='center', fontsize=15)

xlab = [('NO', ' (ppb)', 258), (r'NO$_\mathbf{2}$', ' (ppb)', 553),
        ('BC', ' (μg/m³)', 833), ('UFP', ' (x10³ /cm³)', 1146)]
for bold, rest, xb in xlab:
    ov.text(xb, 722, bold, ha='right', va='center', fontsize=14, fontweight='bold')
    ov.text(xb, 722, rest, ha='left', va='center', fontsize=14)

# legend
ov.text(492, 765, 'Study Area', ha='left', va='center', fontsize=15, fontweight='bold')
leg_cols = [(519, 551, ['RC', 'PA', 'MB', 'BK']),
            (720, 751, ['FV', 'EO', 'WO', 'DO']),
            (916, 947, ['SR', 'SS', 'SF']),
            (1103, 1132, ['LV', 'SB'])]
row_y = [788, 813, 838, 863]
for sx, tx, keys in leg_cols:
    for k, yy in zip(keys, row_y):
        ov.add_patch(Rectangle((sx, yy - 12), 22, 24, facecolor=area_colors[k], edgecolor='white', lw=0.8))
        ov.text(tx, yy, area_names[area_codes.index(k)], ha='left', va='center', fontsize=15.5)

# key for the vertical lines
sch = fig.add_axes([133 / W, 1 - 854 / H, 137 / W, 69 / H])
sch.set_xlim(0, 1)
sch.set_ylim(0, 1)
sch.set_xticks(np.linspace(0, 1, 9))
sch.set_yticks(np.linspace(0, 1, 7))
sch.grid(color='#EAEAEA', lw=1.0)
sch.tick_params(length=0, labelbottom=False, labelleft=False)
for s in sch.spines.values():
    s.set_color('#444444')
    s.set_linewidth(1.0)
for v, ls in zip([0.146, 0.372, 0.628, 0.854], line_styles):
    sch.axvline(v, color='black', ls=ls, lw=1.2)

ov.text(187, 761, 'median', ha='center', va='center', fontsize=15.5)
ov.plot([184, 184], [770, 785], color='black', lw=2.2)
ov.text(108, 810, '10th', ha='right', va='center', fontsize=15.5)
ov.text(108, 834, 'percentile', ha='right', va='center', fontsize=15.5)
ov.plot([111, 152], [827, 824], color='black', lw=2.2)
ov.text(286, 807, '90th', ha='left', va='center', fontsize=15.5)
ov.text(286, 832, 'percentile', ha='left', va='center', fontsize=15.5)
ov.plot([251, 286], [819, 814], color='black', lw=2.2)
ov.text(222, 871, 'mean', ha='center', va='center', fontsize=15)
ov.plot([219, 220], [855, 862], color='black', lw=2.2)

fig.savefig('out.png', dpi=100)
